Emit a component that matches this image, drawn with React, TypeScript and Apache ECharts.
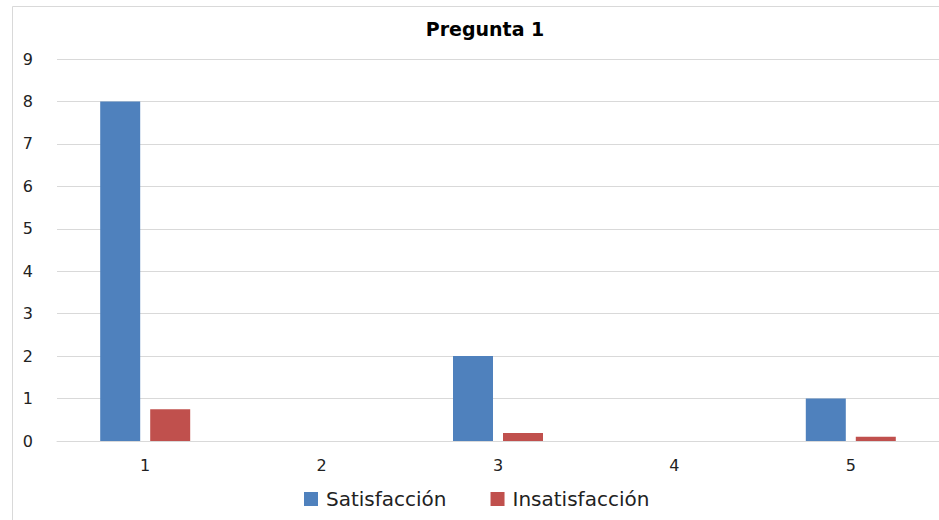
import React, { useEffect, useRef } from "react";
import * as echarts from "echarts";

const categories = ["1", "2", "3", "4", "5"];
const satisfaccion = [8, 0, 2, 0, 1];
const insatisfaccion = [0.75, 0, 0.19, 0, 0.1];
const seriesNames = ["Satisfacción", "Insatisfacción"];
const titleText = "Pregunta 1";

export default function App() {
  const ref = useRef<HTMLDivElement>(null);
  useEffect(() => {
    document.body.style.margin = "0";
    const chart = echarts.init(ref.current!, null, { renderer: "svg" });
    const font = "DejaVu Sans";
    chart.setOption({
      animation: false,
      backgroundColor: "#ffffff",
      title: {
        text: titleText,
        left: 480,
        top: 14,
        textAlign: "center",
        textStyle: { fontFamily: "DejaVu Sans", fontWeight: "bold", fontSize: 19, color: "#000" },
      },
      graphic: [
        {
          type: "rect",
          shape: { x: 12.5, y: 6.5, width: 1000, height: 600 },
          style: { fill: "none", stroke: "#d9d9d9", lineWidth: 1 },
          silent: true,
        },
      ],
      legend: {
        data: seriesNames,
        bottom: 6,
        left: 299,
        itemWidth: 14,
        itemHeight: 14,
        itemGap: 44,
        icon: "rect",
        textStyle: { fontFamily: font, fontSize: 20, color: "#222", padding: [0, 0, 0, 3] },
      },
      grid: { left: 57, right: -1, top: 59, bottom: 79, containLabel: false },
      xAxis: {
        type: "category",
        data: categories,
        axisLine: { show: true, lineStyle: { color: "#d9d9d9" } },
        axisTick: { show: false },
        axisLabel: { fontFamily: font, fontSize: 16, color: "#222", margin: 16 },
      },
      yAxis: {
        type: "value",
        min: 0,
        max: 9,
        interval: 1,
        axisLine: { show: false },
        axisTick: { show: false },
        splitLine: { lineStyle: { color: "#d9d9d9" } },
        axisLabel: { fontFamily: font, fontSize: 16, color: "#222", margin: 24 },
      },
      series: [
        {
          name: seriesNames[0],
          type: "bar",
          data: satisfaccion,
          barWidth: 40,
          barGap: "25%",
          itemStyle: { color: "#4F81BD" },
        },
        {
          name: seriesNames[1],
          type: "bar",
          data: insatisfaccion,
          barWidth: 40,
          itemStyle: { color: "#C0504D" },
        },
      ],
    });
    return () => chart.dispose();
  }, []);
  return <div ref={ref} style={{ width: 939, height: 520 }} />;
}
